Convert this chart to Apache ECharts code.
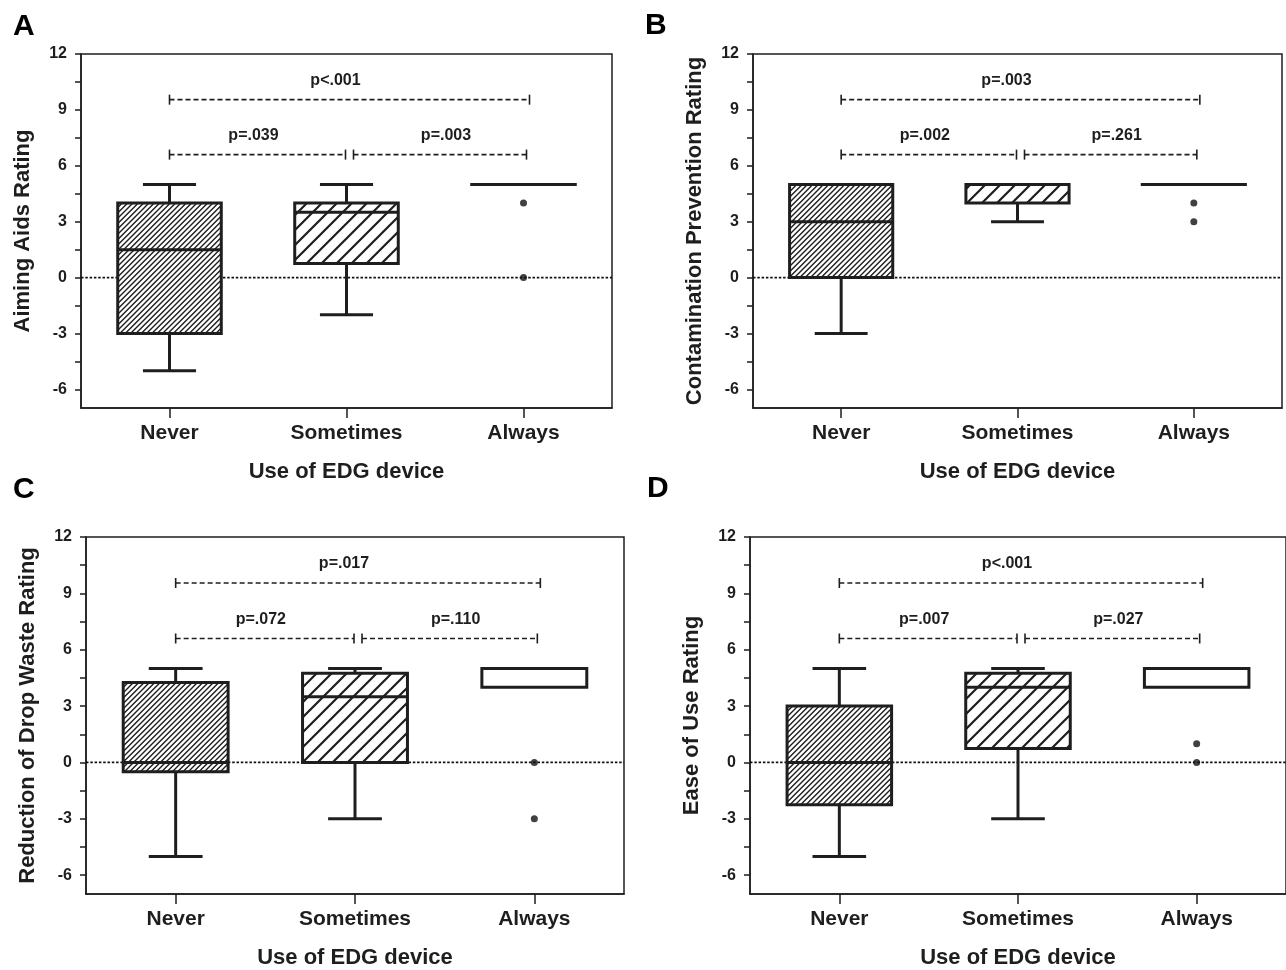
<!DOCTYPE html>
<html>
<head>
<meta charset="utf-8">
<script src="https://cdn.jsdelivr.net/npm/echarts@6/dist/echarts.min.js"></script>
<style>
  html, body { margin: 0; padding: 0; background: #fff; }
  #chart { width: 1286px; height: 970px; }
</style>
</head>
<body>
<div id="chart"></div>
<script>
// ---------------- data ----------------
const categories = ['Never', 'Sometimes', 'Always'];
const yTickLabels = [-6, -3, 0, 3, 6, 9, 12];
const yMinorTicks = [-6, -4.5, -3, -1.5, 0, 1.5, 3, 4.5, 6, 7.5, 9, 10.5, 12];
const panelLetters = ['A', 'B', 'C', 'D'];
const yTitles = ['Aiming Aids Rating', 'Contamination Prevention Rating', 'Reduction of Drop Waste Rating', 'Ease of Use Rating'];
const xTitle = 'Use of EDG device';

// box statistics per category: [low whisker, Q1, median, Q3, high whisker]
const boxesA = [[-5, -3, 1.5, 4, 5], [-2, 0.75, 3.5, 4, 5], [5, 5, 5, 5, 5]];
const boxesB = [[-3, 0, 3, 5, 5], [3, 4, 5, 5, 5], [5, 5, 5, 5, 5]];
const boxesC = [[-5, -0.5, 0, 4.25, 5], [-3, 0, 3.5, 4.75, 5], [4, 4, 5, 5, 5]];
const boxesD = [[-5, -2.25, 0, 3, 5], [-3, 0.75, 4, 4.75, 5], [4, 4, 5, 5, 5]];

// outliers: [category index, value]
const outliersA = [[2, 4], [2, 0]];
const outliersB = [[2, 4], [2, 3]];
const outliersC = [[2, 0], [2, -3]];
const outliersD = [[2, 1], [2, 0]];

// comparison brackets: [from category, to category, height]
const bracketPairs = [[0, 1, 6.6], [1, 2, 6.6], [0, 2, 9.55]];
const pValuesA = ['p=.039', 'p=.003', 'p<.001'];
const pValuesB = ['p=.002', 'p=.261', 'p=.003'];
const pValuesC = ['p=.072', 'p=.110', 'p=.017'];
const pValuesD = ['p=.007', 'p=.027', 'p<.001'];

const referenceLine = [0];

// ---------------- styling ----------------
const FONT = '"Liberation Sans", Arial, Helvetica, sans-serif';
const INK = '#1e1e1e';

function makeHatch(tile, spacing, lw) {
  const c = document.createElement('canvas');
  c.width = tile; c.height = tile;
  const g = c.getContext('2d');
  g.fillStyle = '#fff';
  g.fillRect(0, 0, tile, tile);
  g.strokeStyle = INK;
  g.lineWidth = lw;
  g.beginPath();
  for (let k = -2 * tile; k <= 3 * tile; k += spacing) {
    g.moveTo(k - tile * 2, tile * 2);
    g.lineTo(k + tile * 2, -tile * 2);
  }
  g.stroke();
  return c;
}
const hatchDense = makeHatch(16, 16 / 3, 1.4);
const hatchSparse = makeHatch(15, 15, 2.2);
const boxFills = [
  { image: hatchDense, repeat: 'repeat' },
  { image: hatchSparse, repeat: 'repeat' },
  '#ffffff'
];

const grids = [
  { left: 81, top: 54, width: 531, height: 354 },
  { left: 753, top: 54, width: 529, height: 354 },
  { left: 86, top: 537, width: 538, height: 359 },
  { left: 750, top: 537, width: 537, height: 359 }
];
const letterPos = [[13, 12], [645, 11], [13, 475], [647, 474]];

const panels = [
  { boxes: boxesA, outliers: outliersA, p: pValuesA },
  { boxes: boxesB, outliers: outliersB, p: pValuesB },
  { boxes: boxesC, outliers: outliersC, p: pValuesC },
  { boxes: boxesD, outliers: outliersD, p: pValuesD }
];

function lineEl(x1, y1, x2, y2, style) {
  return { type: 'line', shape: { x1, y1, x2, y2 }, style: Object.assign({ stroke: INK, lineWidth: 3 }, style || {}) };
}

function renderBox(params, api) {
  const i = api.value(0);
  const lo = api.value(1), q1 = api.value(2), md = api.value(3), q3 = api.value(4), hi = api.value(5);
  const cx = api.coord([i, md])[0];
  const yLo = api.coord([i, lo])[1];
  const yQ1 = api.coord([i, q1])[1];
  const yMd = api.coord([i, md])[1];
  const yQ3 = api.coord([i, q3])[1];
  const yHi = api.coord([i, hi])[1];
  const band = api.size([1, 0])[0];
  const bw = band * 0.585;
  const cw = band * 0.3;
  const children = [];
  if (hi > q3) {
    children.push(lineEl(cx, yQ3, cx, yHi));
    children.push(lineEl(cx - cw / 2, yHi, cx + cw / 2, yHi));
  }
  if (lo < q1) {
    children.push(lineEl(cx, yQ1, cx, yLo));
    children.push(lineEl(cx - cw / 2, yLo, cx + cw / 2, yLo));
  }
  if (q3 > q1) {
    children.push({
      type: 'rect',
      shape: { x: cx - bw / 2, y: yQ3, width: bw, height: yQ1 - yQ3 },
      style: { fill: boxFills[i], stroke: INK, lineWidth: 3 }
    });
  }
  children.push(lineEl(cx - bw / 2 - (q3 > q1 ? 0 : 1.5), yMd, cx + bw / 2 + (q3 > q1 ? 0 : 1.5), yMd));
  return { type: 'group', children };
}

function makeBracketRenderer(labels) {
  const startDx = [0, 7, 0];
  const endDx = [-1, 3, 6];
  const labelDx = [-4, 6, -14];
  return function (params, api) {
    const k = params.dataIndex;
    const a = api.value(0), b = api.value(1), v = api.value(2);
    const p1 = api.coord([a, v]);
    const p2 = api.coord([b, v]);
    const x1 = p1[0] + startDx[k], x2 = p2[0] + endDx[k], y = p1[1];
    const st = { stroke: INK, lineWidth: 1.6 };
    return {
      type: 'group',
      children: [
        lineEl(x1, y, x2, y, Object.assign({ lineDash: [5, 3] }, st)),
        lineEl(x1, y - 5, x1, y + 5, st),
        lineEl(x2, y - 5, x2, y + 5, st),
        {
          type: 'text',
          x: (x1 + x2) / 2 + labelDx[k],
          y: y - 19,
          style: { text: labels[k], font: 'bold 16px ' + FONT, fill: INK, align: 'center', verticalAlign: 'middle' }
        }
      ]
    };
  };
}

function renderZeroLine(params, api) {
  const cs = params.coordSys;
  const y = api.coord([0, api.value(0)])[1];
  return lineEl(cs.x, y, cs.x + cs.width, y, { lineWidth: 1.7, lineDash: [2.5, 1.8], stroke: '#111' });
}

const option = {
  backgroundColor: '#fff',
  animation: false,
  grid: grids.map(g => Object.assign({ show: true, borderColor: INK, borderWidth: 1.5, containLabel: false }, g)),
  xAxis: grids.map((g, k) => ({
    type: 'category',
    gridIndex: k,
    data: categories,
    boundaryGap: true,
    axisLine: { show: true, onZero: false, lineStyle: { color: INK, width: 1.5 } },
    axisTick: { show: true, alignWithLabel: true, length: 10, lineStyle: { color: INK, width: 1.5 } },
    axisLabel: { color: INK, fontSize: 21, fontWeight: 'bold', fontFamily: FONT, margin: 15 },
    splitLine: { show: false },
    name: xTitle,
    nameLocation: 'middle',
    nameGap: 53,
    nameTextStyle: { color: INK, fontSize: 22, fontWeight: 'bold', fontFamily: FONT }
  })),
  yAxis: grids.map((g, k) => ({
    type: 'value',
    gridIndex: k,
    min: -7,
    max: 12,
    axisLine: { show: true, onZero: false, lineStyle: { color: INK, width: 1.5 } },
    axisTick: { show: true, length: 6, customValues: yMinorTicks, lineStyle: { color: INK, width: 1.5 } },
    axisLabel: { color: INK, fontSize: 16, fontWeight: 'bold', fontFamily: FONT, margin: 14, customValues: yTickLabels },
    splitLine: { show: false },
    name: yTitles[k],
    nameLocation: 'middle',
    nameGap: 47,
    nameTextStyle: { color: INK, fontSize: 22, fontWeight: 'bold', fontFamily: FONT }
  })),
  graphic: panelLetters.map((t, k) => ({
    type: 'text',
    left: letterPos[k][0],
    top: letterPos[k][1],
    style: { text: t, font: 'bold 30px ' + FONT, fill: '#000' }
  })),
  series: []
};

panels.forEach((p, k) => {
  option.series.push({
    type: 'custom',
    xAxisIndex: k, yAxisIndex: k,
    z: 1,
    silent: true,
    data: referenceLine.map(v => [v]),
    encode: { y: 0 },
    renderItem: renderZeroLine
  });
  option.series.push({
    type: 'custom',
    xAxisIndex: k, yAxisIndex: k,
    z: 2,
    silent: true,
    data: p.boxes.map((b, i) => [i].concat(b)),
    encode: { x: 0, y: [1, 2, 3, 4, 5] },
    renderItem: renderBox
  });
  option.series.push({
    type: 'custom',
    xAxisIndex: k, yAxisIndex: k,
    z: 2,
    silent: true,
    data: bracketPairs,
    encode: { x: [0, 1], y: 2 },
    renderItem: makeBracketRenderer(p.p)
  });
  option.series.push({
    type: 'scatter',
    xAxisIndex: k, yAxisIndex: k,
    z: 3,
    silent: true,
    symbol: 'circle',
    symbolSize: 7,
    itemStyle: { color: '#111' },
    data: p.outliers
  });
});

const chart = echarts.init(document.getElementById('chart'), null, { renderer: 'canvas' });
chart.setOption(option);
</script>
</body>
</html>
